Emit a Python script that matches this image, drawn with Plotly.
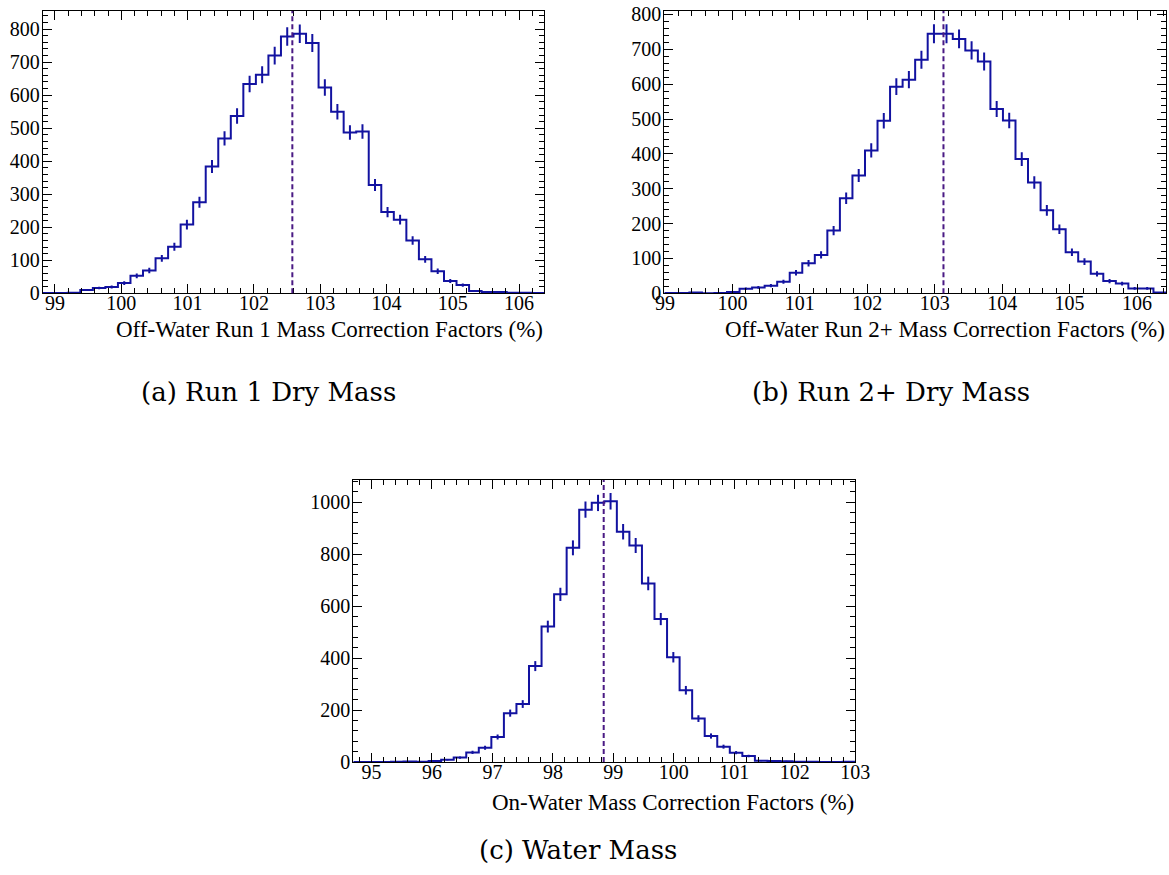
import numpy as np
import plotly.graph_objects as go

# ---- histogram contents (40 bins each) ----
run1_low, run1_high = 98.815, 106.38
run1_counts = [1, 1, 2, 10, 16, 19, 31, 53, 69, 106, 141, 208, 276, 384, 469, 537,
               634, 662, 720, 778, 786, 758, 623, 550, 487, 490, 328, 246, 223, 160,
               103, 67, 37, 25, 7, 4, 4, 2, 2, 1]
run1_mean = 102.58

run2_low, run2_high = 98.99, 106.43
run2_counts = [1, 1, 2, 0, 1, 4, 13, 17, 22, 33, 59, 86, 110, 180, 273, 338, 410,
               495, 593, 613, 670, 745, 745, 730, 697, 665, 529, 496, 385, 318, 238,
               184, 118, 91, 56, 35, 28, 14, 14, 2]
run2_mean = 103.13

water_low, water_high = 94.70, 103.0
water_counts = [0, 0, 0, 1, 2, 1, 4, 9, 17, 37, 55, 96, 188, 223, 369, 521, 645,
                824, 971, 997, 1003, 886, 833, 687, 550, 403, 276, 167, 100, 59, 36,
                23, 5, 4, 3, 1, 1, 0, 0, 1]
water_mean = 98.84

x_titles = ["Off-Water Run 1 Mass Correction Factors (%)",
            "Off-Water Run 2+ Mass Correction Factors (%)",
            "On-Water Mass Correction Factors (%)"]
captions = ["(a) Run 1 Dry Mass", "(b) Run 2+ Dry Mass", "(c) Water Mass"]

W, H = 1169, 875
LINE = "#1212a0"
DASH = "#4a1a84"
FONT = "Liberation Serif, Times New Roman, serif"

# pixel boxes of each frame: left, right, top, bottom
boxes = [(42.7, 544.3, 11, 293.3), (664.3, 1166, 11, 293.3), (353.3, 855.3, 480, 762)]
title_y = [329, 329, 802]
yranges = [855, 810, 1085]
ysteps = [100, 100, 200]
panels = [(run1_low, run1_high, run1_counts, run1_mean),
          (run2_low, run2_high, run2_counts, run2_mean),
          (water_low, water_high, water_counts, water_mean)]

fig = go.Figure()
axes = {}
for i, ((lo, hi, counts, mean), box) in enumerate(zip(panels, boxes)):
    k = "" if i == 0 else str(i + 1)
    xa, ya = "x" + k, "y" + k
    counts = np.asarray(counts, dtype=float)
    edges = np.linspace(lo, hi, len(counts) + 1)
    centers = 0.5 * (edges[:-1] + edges[1:])
    # step outline
    fig.add_trace(go.Scatter(
        x=edges, y=np.append(counts, counts[-1]), mode="lines",
        line=dict(color=LINE, width=2, shape="hv"),
        xaxis=xa, yaxis=ya, showlegend=False, hoverinfo="skip"))
    # Poisson error bars at bin centres
    fig.add_trace(go.Scatter(
        x=centers, y=counts, mode="markers",
        marker=dict(size=1, color="rgba(0,0,0,0)"),
        error_y=dict(type="data", array=np.sqrt(counts), color=LINE,
                     thickness=2, width=0),
        xaxis=xa, yaxis=ya, showlegend=False, hoverinfo="skip"))
    # mean marker
    fig.add_shape(type="line", x0=mean, x1=mean, y0=0, y1=1,
                  xref=xa, yref=ya + " domain",
                  line=dict(color=DASH, width=2, dash="5px,3px"))

    l, r, t, b = box
    axis_common = dict(
        showline=True, linecolor="black", linewidth=1, mirror="allticks",
        ticks="inside", tickcolor="black", tickwidth=1,
        showgrid=False, zeroline=False, automargin=False,
        tickfont=dict(family=FONT, size=20, color="black"),
    )
    axes["xaxis" + k] = dict(
        domain=[l / W, r / W], range=[lo, hi], anchor=ya,
        dtick=1, tick0=0, ticklen=9, ticklabelstandoff=-8,
        minor=dict(dtick=0.2, ticklen=5, ticks="inside", tickcolor="black"),
        **axis_common)
    axes["yaxis" + k] = dict(
        domain=[1 - b / H, 1 - t / H], range=[0, yranges[i]], anchor=xa,
        dtick=ysteps[i], tick0=0, ticklen=9, ticklabelstandoff=-2,
        minor=dict(dtick=ysteps[i] / 5, ticklen=5, ticks="inside", tickcolor="black"),
        **axis_common)

    # axis title, right-aligned under the frame
    fig.add_annotation(text=x_titles[i], x=r / W + 0.001, y=1 - title_y[i] / H,
                       xref="paper", yref="paper", xanchor="right", yanchor="middle",
                       showarrow=False, font=dict(family=FONT, size=23, color="black"))

caption_pos = [(268, 392), (891, 392), (578, 850)]
for cap, (cx, cy) in zip(captions, caption_pos):
    fig.add_annotation(text=cap, x=cx / W, y=1 - cy / H, xref="paper", yref="paper",
                       xanchor="center", yanchor="middle", showarrow=False,
                       font=dict(family="DejaVu Serif", size=26, color="black"))

fig.update_layout(width=W, height=H, autosize=False,
                  margin=dict(l=0, r=0, t=0, b=0),
                  font=dict(family=FONT, size=20, color="black"),
                  paper_bgcolor="white", plot_bgcolor="white", **axes)
fig.write_html("out.html")
